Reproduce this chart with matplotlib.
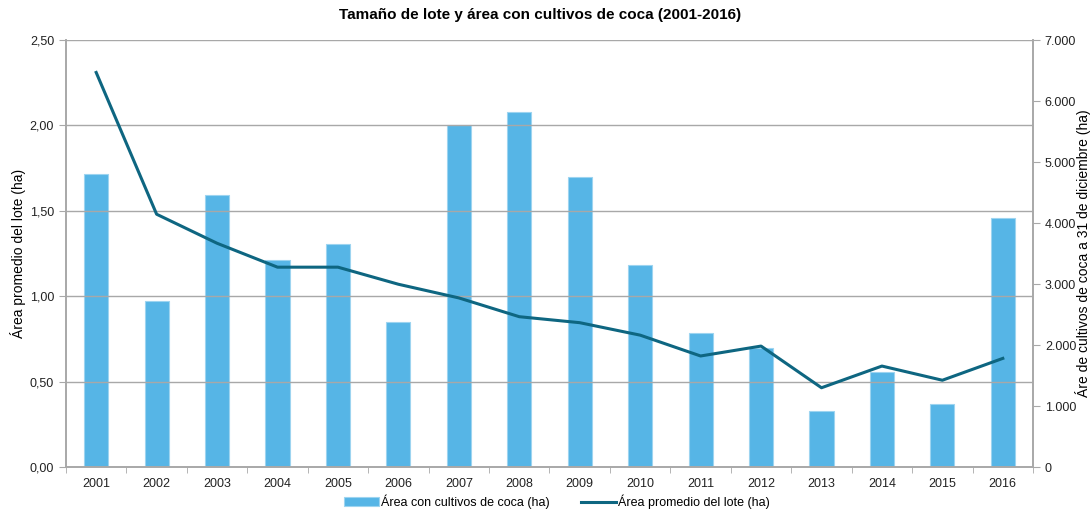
import numpy as np
import matplotlib.pyplot as plt
from matplotlib.ticker import FuncFormatter

years = ['2001', '2002', '2003', '2004', '2005', '2006', '2007', '2008',
         '2009', '2010', '2011', '2012', '2013', '2014', '2015', '2016']
area_coca = [4808, 2727, 4454, 3389, 3656, 2372, 5611, 5825,
             4760, 3307, 2192, 1956, 913, 1552, 1033, 4077]
lote_prom = [2.31, 1.48, 1.31, 1.17, 1.17, 1.07, 0.99, 0.88,
             0.845, 0.772, 0.650, 0.708, 0.464, 0.591, 0.508, 0.636]

bar_color = '#56B5E6'
line_color = '#0E6681'
grid_color = '#A8A8A8'

plt.rcParams['font.family'] = ['Liberation Sans', 'DejaVu Sans']

fig = plt.figure(figsize=(10.92, 5.15), dpi=100)
ax = fig.add_axes([0.0604, 0.0932, 0.8856, 0.8291])
ax2 = ax.twinx()
x = np.arange(len(years))

# bars belong to the right axis, line to the left one
bars = ax2.bar(x, area_coca, width=0.4, color=bar_color, edgecolor='#9DD4F0',
               linewidth=0.8, zorder=2)
ax2.set_ylim(0, 7000)
ax2.set_yticks(np.arange(0, 7001, 1000))
ax2.yaxis.set_major_formatter(FuncFormatter(lambda v, p: f'{int(v):,}'.replace(',', '.')))

ax.set_zorder(ax2.get_zorder() + 1)
ax.patch.set_visible(False)
for lv in np.arange(0.5, 2.51, 0.5):
    ax.axhline(lv, color=grid_color, lw=1, zorder=1)
line, = ax.plot(x, lote_prom, color=line_color, lw=2.2, zorder=3)
ax.set_ylim(0, 2.5)
ax.set_xlim(-0.5, len(years) - 0.5)
ax.set_yticks(np.arange(0, 2.51, 0.5))
ax.yaxis.set_major_formatter(FuncFormatter(lambda v, p: f'{v:.2f}'.replace('.', ',')))
ax.set_xticks(x)
ax.set_xticklabels(years)
ax.set_xticks(np.arange(-0.5, len(years), 1), minor=True)
ax.tick_params(axis='x', which='major', length=0, pad=8, labelsize=9, colors='#222222')
ax.tick_params(axis='x', which='minor', length=4, color=grid_color)
ax.tick_params(axis='y', length=5, color=grid_color, labelsize=9, labelcolor='#222222')
ax2.tick_params(axis='y', length=5, color=grid_color, labelsize=9, labelcolor='#222222')

for a in (ax, ax2):
    a.spines['top'].set_visible(False)
    for s in ('left', 'right', 'bottom'):
        a.spines[s].set_color(grid_color)
        a.spines[s].set_linewidth(1.2)

ax.set_ylabel('Área promedio del lote (ha)', fontsize=10)
ax.yaxis.set_label_coords(-0.041, 0.5)
ax2.set_ylabel('Áre de cultivos de coca a 31 de diciembre (ha)', fontsize=10,
               rotation=90)
ax2.yaxis.set_label_coords(1.043, 0.5)

fig.suptitle('Tamaño de lote y área con cultivos de coca (2001-2016)', x=0.495, y=0.985,
             fontsize=11, fontweight='bold')

fig.legend([bars, line], ['Área con cultivos de coca (ha)', 'Área promedio del lote (ha)'],
           loc='lower center', bbox_to_anchor=(0.51, -0.01), ncol=2, frameon=False,
           fontsize=9, handlelength=2.8, handleheight=0.7, columnspacing=2.5,
           handletextpad=0.2)

fig.savefig('out.png', dpi=100)
